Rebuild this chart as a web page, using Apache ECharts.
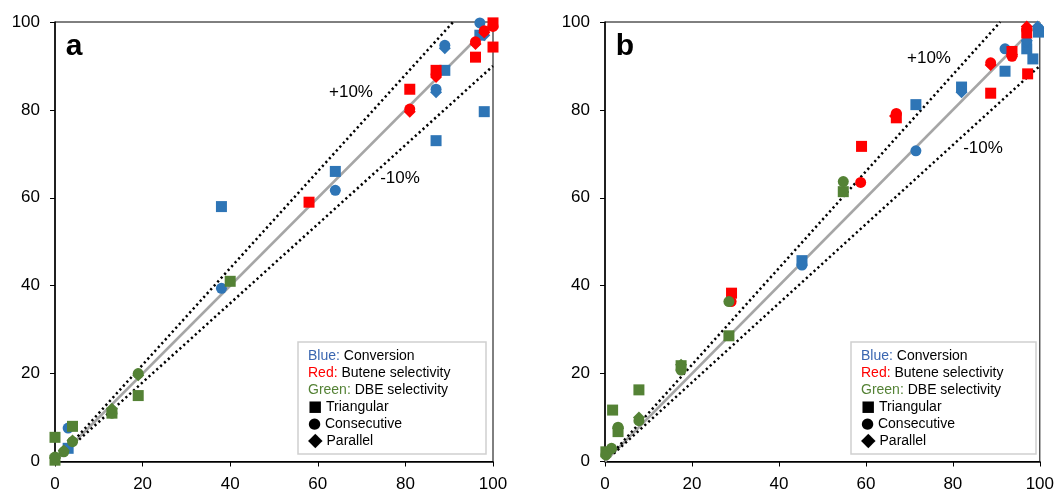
<!DOCTYPE html>
<html>
<head>
<meta charset="utf-8">
<script src="https://cdn.jsdelivr.net/npm/echarts@6/dist/echarts.min.js"></script>
<style>
  html, body { margin: 0; padding: 0; background: #fff; }
  #main { width: 1057px; height: 493px; }
</style>
</head>
<body>
<div id="main"></div>
<script>
// panel a: [model, experiment] pairs
var aBlueTri = [[38, 58], [64, 66], [89, 89], [87, 73], [98, 79.6], [97, 97], [3, 3]];
var aBlueCon = [[38, 39.4], [64, 61.7], [87, 84.7], [89, 94.7], [97, 99.8], [3, 7.6]];
var aBluePar = [[87, 84], [89, 94], [98, 97]];
var aRedTri = [[58, 59], [81, 84.7], [87, 89], [96, 92], [100, 94.3], [100, 99.8]];
var aRedCon = [[81, 80.2], [87, 88], [96, 95.5], [98, 98], [100, 99]];
var aRedPar = [[81, 79.6], [87, 87.5], [96, 95], [98, 97.6]];
var aGreenTri = [[40, 41], [19, 15], [13, 11], [4, 8], [0, 5.5], [0, 0.3]];
var aGreenCon = [[19, 20], [13, 11], [4, 4.5], [2, 2.2], [0, 1]];
var aGreenPar = [[19, 19.6], [13, 12], [4, 4.8], [2, 2.5], [0, 0.8]];

// panel b
var bBlueTri = [[45.3, 45.7], [71.5, 81.2], [82, 85.2], [92, 88.8], [97, 93.9], [98.4, 91.6], [99.7, 97.7]];
var bBlueCon = [[45.3, 44.7], [71.5, 70.7], [92, 93.9], [97, 95.5], [99.7, 98.5]];
var bBluePar = [[82, 84], [97, 95.8], [99.5, 99]];
var bRedTri = [[29.1, 38.3], [59, 71.7], [67, 78.2], [88.7, 83.8], [93.6, 93.3], [97.2, 88.2], [97, 97.5]];
var bRedCon = [[29, 36.4], [58.8, 63.5], [67, 79.2], [88.7, 90.7], [93.6, 92.2], [97, 98.2]];
var bRedPar = [[66.7, 78.6], [88.7, 90.2], [93.6, 92.6], [97, 99]];
var bGreenTri = [[54.8, 61.4], [28.5, 28.6], [17.5, 21.8], [7.8, 16.3], [1.75, 11.7], [3, 6.8], [0.2, 2.2]];
var bGreenCon = [[54.8, 63.7], [28.5, 36.4], [17.5, 20.8], [7.8, 9.3], [3, 7.8], [1.5, 3], [0.2, 1.5]];
var bGreenPar = [[17.5, 22], [7.8, 10], [3, 7.5], [1.5, 2.8]];

// reference lines
var parityLine = [[0, 0], [100, 100]];
var plusLine = [[2, 2.2], [90.9, 100]];
var minusLine = [[2, 1.8], [100, 90]];

var BLUE = '#2E75B6', RED = '#FF0000', GREEN = '#548235';
var FONT = 'Liberation Sans, Arial, sans-serif';

var chart = echarts.init(document.getElementById('main'));

var grids = [
  {left: 55, top: 22, width: 438, height: 439.5, show: true, borderColor: '#000', borderWidth: 1},
  {left: 605, top: 22, width: 438, height: 439.5, show: true, borderColor: '#000', borderWidth: 1}
];

function axis(i, isY) {
  return {
    gridIndex: i, type: 'value', min: 0, max: 100, interval: 20,
    axisLine: {show: true, onZero: false, lineStyle: {color: '#000', width: 1.5}},
    axisTick: {show: true, inside: false, length: 5, lineStyle: {color: '#000', width: 1}},
    axisLabel: {color: '#000', fontSize: 17, fontFamily: FONT, margin: isY ? 15 : 14},
    splitLine: {show: false}
  };
}

function scatter(i, data, color, symbol, size) {
  return {
    type: 'scatter', xAxisIndex: i, yAxisIndex: i, data: data,
    symbol: symbol, symbolSize: size,
    itemStyle: {color: color, opacity: 1},
    z: 3
  };
}

function line(i, data, style) {
  return {
    type: 'line', xAxisIndex: i, yAxisIndex: i, data: data,
    symbol: 'none', lineStyle: style, z: 2, silent: true
  };
}

var SQ = 11, CI = 11, DI = 12;
var gray = {color: '#A6A6A6', width: 2.5};
var dots = {color: '#000', width: 2.5, type: [2.2, 3]};

var series = [];
[0, 1].forEach(function (i) {
  series.push(line(i, parityLine, gray));
  series.push(line(i, plusLine, dots));
  series.push(line(i, minusLine, dots));
});
series.push(
  scatter(0, aBlueTri, BLUE, 'rect', SQ),
  scatter(0, aBlueCon, BLUE, 'circle', CI),
  scatter(0, aBluePar, BLUE, 'diamond', DI),
  scatter(0, aRedTri, RED, 'rect', SQ),
  scatter(0, aRedCon, RED, 'circle', CI),
  scatter(0, aRedPar, RED, 'diamond', DI),
  scatter(0, aGreenTri, GREEN, 'rect', SQ),
  scatter(0, aGreenCon, GREEN, 'circle', CI),
  scatter(0, aGreenPar, GREEN, 'diamond', DI),
  scatter(1, bBlueTri, BLUE, 'rect', SQ),
  scatter(1, bBlueCon, BLUE, 'circle', CI),
  scatter(1, bBluePar, BLUE, 'diamond', DI),
  scatter(1, bRedTri, RED, 'rect', SQ),
  scatter(1, bRedCon, RED, 'circle', CI),
  scatter(1, bRedPar, RED, 'diamond', DI),
  scatter(1, bGreenTri, GREEN, 'rect', SQ),
  scatter(1, bGreenCon, GREEN, 'circle', CI),
  scatter(1, bGreenPar, GREEN, 'diamond', DI)
);

var legendRich = {
  b: {fill: '#3A66B0', fontSize: 14, fontFamily: FONT, lineHeight: 17},
  r: {fill: RED, fontSize: 14, fontFamily: FONT, lineHeight: 17},
  g: {fill: GREEN, fontSize: 14, fontFamily: FONT, lineHeight: 17},
  t: {fill: '#000', fontSize: 14, fontFamily: FONT, lineHeight: 17},
  s: {fill: '#000', fontSize: 15, fontFamily: 'DejaVu Sans', lineHeight: 17},
  d: {fill: '#000', fontSize: 19, fontFamily: 'DejaVu Sans', lineHeight: 17}
};
var legendText = [
  '{b|Blue:} {t|Conversion}',
  '{r|Red:} {t|Butene selectivity}',
  '{g|Green:} {t|DBE selectivity}',
  '{s|■}{t| Triangular}',
  '{s|●}{t| Consecutive}',
  '{d|◆}{t| Parallel}'
].join('\n');

function legendBox(x, w) {
  return {
    type: 'group',
    children: [
      {type: 'rect', shape: {x: x, y: 342, width: w, height: 112},
        style: {fill: '#fff', stroke: '#D0D0D0', lineWidth: 1.5}},
      {type: 'text', x: x + 10, y: 348,
        style: {text: legendText, rich: legendRich, lineHeight: 17, fontSize: 14, fontFamily: FONT, fill: '#000'}}
    ],
    z: 10
  };
}

function label(txt, x, y, size, weight) {
  return {
    type: 'text', x: x, y: y, z: 10,
    style: {text: txt, fontSize: size, fontWeight: weight || 'normal', fontFamily: FONT,
      fill: '#000', align: 'center', verticalAlign: 'middle'}
  };
}

chart.setOption({
  animation: false,
  textStyle: {fontFamily: FONT},
  grid: grids,
  xAxis: [axis(0, false), axis(1, false)],
  yAxis: [axis(0, true), axis(1, true)],
  series: series,
  graphic: [
    label('a', 74, 47, 30, 'bold'),
    label('b', 625, 47, 30, 'bold'),
    label('+10%', 351, 92, 17),
    label('-10%', 400, 178, 17),
    label('+10%', 929, 58, 17),
    label('-10%', 983, 148, 17),
    legendBox(298, 188),
    legendBox(851, 185)
  ]
});
</script>
</body>
</html>
